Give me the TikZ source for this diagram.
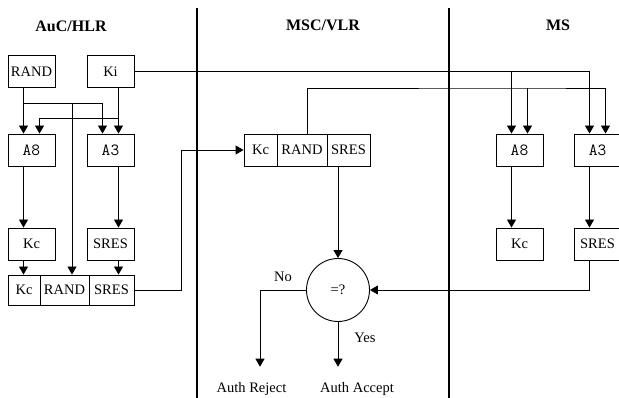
\documentclass[tikz,border=0pt]{standalone}
\usepackage{fontspec}
\setmainfont{Liberation Serif}
\usetikzlibrary{arrows.meta,calc}
\begin{document}
\begin{tikzpicture}[x=1pt,y=-1pt,
  conn/.style={line width=0.9pt},
  arr/.style={conn,-{Triangle[width=9pt,length=8pt]}},
  box/.style={draw,line width=0.9pt,minimum width=47pt,minimum height=32pt,inner sep=0pt,font=\fontsize{14.5}{16}\selectfont},
  mbox/.style={box,font=\ttfamily\fontsize{17}{18}\selectfont},
  cell/.style={draw,line width=0.9pt,minimum height=30pt,inner sep=0pt,font=\fontsize{14.5}{16}\selectfont},
  title/.style={font=\bfseries\fontsize{16}{18}\selectfont},
  lbl/.style={font=\fontsize{14.5}{16}\selectfont,inner sep=0pt},
  divider/.style={line width=2pt}]
\clip (0,0) rectangle (619,398);
\fill[white] (0,0) rectangle (619,398);
% titles
\node[title] (t1) at (71,26) {AuC/HLR};
\node[title] (t2) at (323,25) {MSC/VLR};
\node[title] (t3) at (558,25) {MS};
% dividers
\draw[divider] (196.5,8) -- (196.5,398);
\draw[divider] (449,8) -- (449,398);
% AuC/HLR
\node[box] (RAND) at (31.5,71.5) {RAND};
\node[box] (Ki) at (110.5,71.5) {Ki};
\node[mbox] (A8) at (31.5,150) {A8};
\node[mbox] (A3) at (110.5,150) {A3};
\node[box] (Kc) at (31.5,244) {Kc};
\node[box] (SRES) at (110.5,244) {SRES};
\node[cell,minimum width=32pt] (tKc) at (24,290) {Kc};
\node[cell,minimum width=49pt] (tRAND) at (64.5,290) {RAND};
\node[cell,minimum width=45pt] (tSRES) at (111.5,290) {SRES};
% MSC/VLR
\node[cell,minimum height=32pt,minimum width=33pt] (mKc) at (260.5,150) {Kc};
\node[cell,minimum height=32pt,minimum width=50pt] (mRAND) at (302,150) {RAND};
\node[cell,minimum height=32pt,minimum width=43pt] (mSRES) at (348.5,150) {SRES};
\node[draw,circle,minimum size=63pt,inner sep=0pt,line width=0.9pt,font=\fontsize{14.5}{16}\selectfont] (cmp) at (338,290) {=?};
\node[lbl] (no) at (283,277) {No};
\node[lbl] (yes) at (365,338) {Yes};
\node[lbl,anchor=base] (rej) at (251.5,392) {Auth Reject};
\node[lbl,anchor=base] (acc) at (357,392) {Auth Accept};
% MS
\node[mbox] (sA8) at (519.5,150) {A8};
\node[mbox] (sA3) at (597.5,150) {A3};
\node[box] (sKc) at (519.5,244) {Kc};
\node[box] (sSRES) at (597.5,244) {SRES};
% junctions
\coordinate (jR) at (23.5,103);
\coordinate (jRm) at (72,103);
\coordinate (jK) at (118.5,118);
\coordinate (jKs) at (511.5,71.5);
\coordinate (jRs) at (527.5,88);
% connectors AuC/HLR
\draw[arr] ([xshift=-8pt]RAND.south) -- ([xshift=-8pt]A8.north);
\draw[arr] (jR) -| ([xshift=-8pt]A3.north);
\draw[arr] (jRm) -- (jRm |- tRAND.north);
\draw[arr] ([xshift=8pt]Ki.south) -- ([xshift=8pt]A3.north);
\draw[arr] (jK) -| ([xshift=8pt]A8.north);
\draw[arr] ([xshift=-8pt]A8.south) -- ([xshift=-8pt]Kc.north);
\draw[arr] ([xshift=8pt]A3.south) -- ([xshift=8pt]SRES.north);
\draw[arr] ([xshift=-8pt]Kc.south) -- ([xshift=-8pt]Kc.south |- tKc.north);
\draw[arr] ([xshift=8pt]SRES.south) -- ([xshift=8pt]SRES.south |- tSRES.north);
\draw[arr] (tSRES.east) -- ++(47,0) |- (mKc.west);
% Ki to MS
\draw[arr] (Ki.east) -| ([xshift=-8pt]sA3.north);
\draw[arr] (jKs) -- ([xshift=-8pt]sA8.north);
% RAND to MS
\draw[arr] ([xshift=5pt]mRAND.north) |- (jRs) -| ([xshift=8pt]sA3.north);
\draw[arr] (jRs) -- ([xshift=8pt]sA8.north);
% MS internals
\draw[arr] ([xshift=-8pt]sA8.south) -- ([xshift=-8pt]sKc.north);
\draw[arr] ([xshift=-8pt]sA3.south) -- ([xshift=-8pt]sSRES.north);
\draw[arr] ([xshift=-8pt]sSRES.south) |- (cmp.east);
% comparison
\draw[arr] ([xshift=-10.5pt]mSRES.south) -- (cmp.north);
\draw[arr,shorten >=15pt] (cmp.west) -| ([xshift=8.5pt]rej.north);
\draw[arr,shorten >=15pt] (cmp.south) -- (cmp.south |- acc.north);
\end{tikzpicture}
\end{document}
